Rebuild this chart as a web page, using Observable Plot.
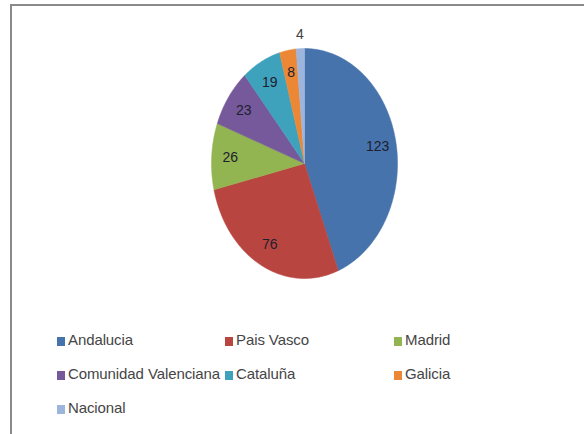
<!DOCTYPE html>
<html>
<head>
<meta charset="utf-8">
<script src="https://cdn.jsdelivr.net/npm/d3@7"></script>
<script src="https://cdn.jsdelivr.net/npm/@observablehq/plot@0.6"></script>
<style>
  html, body { margin: 0; padding: 0; background: #fff; }
  #wrap { position: relative; width: 584px; height: 434px; overflow: hidden; background: #fff;
    font-family: "Liberation Sans", Arial, sans-serif; }
  #frame { position: absolute; left: 10px; top: 4px; width: 600px; height: 440px;
    border-top: 2px solid #8a8a8a; border-left: 2px solid #8a8a8a; box-sizing: border-box; }
  #chart { position: absolute; left: 0; top: 0; }
  .leg { position: absolute; font-size: 15px; color: #454545; line-height: 18px; white-space: nowrap; letter-spacing: -0.1px; }
  .leg span.sw { display: inline-block; width: 8px; height: 9px; margin-right: 3px; vertical-align: -1px; }
</style>
</head>
<body>
<div id="wrap">
  <div id="frame"></div>
  <div id="chart"></div>
  <div id="legend"></div>
</div>
<script>
const regions = ["Andalucía", "País Vasco", "Madrid", "Comunidad Valenciana", "Cataluña", "Galicia", "Nacional"];
const legendLabels = ["Andalucia", "Pais Vasco", "Madrid", "Comunidad Valenciana", "Cataluña", "Galicia", "Nacional"];
const counts = [123, 76, 26, 23, 19, 8, 4];
const colors = ["#4673ab", "#b94541", "#92b451", "#76599a", "#3ea2bd", "#ec8835", "#9db5dc"];

const total = d3.sum(counts);
const polys = [];
const labels = [];
let acc = 0;
counts.forEach((v, i) => {
  const a0 = acc / total * 2 * Math.PI;
  acc += v;
  const a1 = acc / total * 2 * Math.PI;
  const n = Math.max(2, Math.ceil((a1 - a0) / (Math.PI / 360)));
  polys.push({name: regions[i], x: 0, y: 0});
  for (let k = 0; k <= n; k++) {
    const a = a0 + (a1 - a0) * k / n;
    polys.push({name: regions[i], x: Math.sin(a), y: Math.cos(a)});
  }
  polys.push({name: regions[i], x: 0, y: 0});
  const am = (a0 + a1) / 2;
  const share = v / total;
  const r = share < 0.02 ? 1.12 : 0.8;
  labels.push({name: regions[i], value: v, x: r * Math.sin(am), y: r * Math.cos(am), outside: share < 0.02});
});

const chart = Plot.plot({
  width: 584,
  height: 300,
  margin: 0,
  x: {domain: [-1, 1], range: [211, 397], axis: null},
  y: {domain: [-1, 1], range: [278, 48], axis: null},
  color: {domain: regions, range: colors},
  style: {background: "transparent", fontFamily: "'Liberation Sans', Arial, sans-serif"},
  marks: [
    Plot.line(polys, {x: "x", y: "y", z: "name", fill: "name", stroke: "name", strokeWidth: 0.5, curve: "linear"}),
    Plot.text(labels, {x: "x", y: "y", text: d => String(d.value), fontSize: 14,
      fill: d => d.outside ? "#404040" : "#1e2030"})
  ]
});
document.getElementById("chart").appendChild(chart);

// legend (HTML), three columns
const colX = [57, 225, 394];
const rowY = [340, 374, 408];
const leg = document.getElementById("legend");
regions.forEach((r, i) => {
  const row = Math.floor(i / 3), col = i % 3;
  const d = document.createElement("div");
  d.className = "leg";
  d.style.left = colX[col] + "px";
  d.style.top = (rowY[row] - 9) + "px";
  d.innerHTML = `<span class="sw" style="background:${colors[i]}"></span>${legendLabels[i]}`;
  leg.appendChild(d);
});
</script>
</body>
</html>
